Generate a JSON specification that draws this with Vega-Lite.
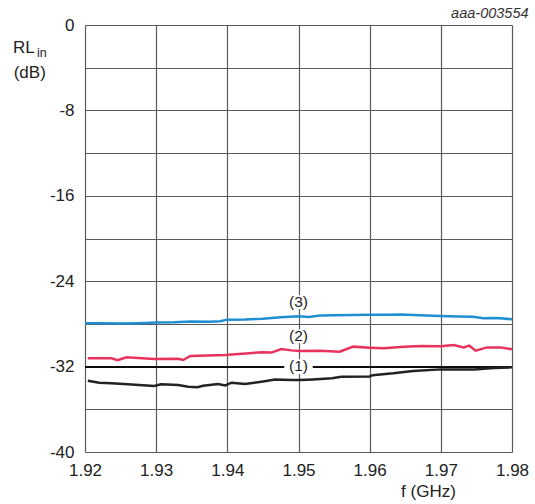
{
  "$schema": "https://vega.github.io/schema/vega-lite/v6.json",
  "width": 427,
  "height": 427,
  "autosize": "none",
  "padding": {"left": 85, "top": 25, "right": 23, "bottom": 52},
  "background": "white",
  "config": {
    "font": "Liberation Sans",
    "view": {"stroke": null},
    "axis": {"domain": false, "ticks": false, "grid": true, "labelFlush": false, "gridColor": "#5a5a5a", "gridWidth": 1.2, "gridOpacity": 1, "labelFont": "Liberation Sans", "labelFontSize": 17, "labelColor": "#222"}
  },
  "title": {"text": "aaa-003554", "anchor": "end", "fontStyle": "italic", "fontWeight": "normal", "fontSize": 14.5, "color": "#333", "offset": -5, "font": "Liberation Sans"},
  "datasets": {
    "curves": [
      {"f": 1.92, "rl": -27.94, "s": "3"}, {"f": 1.9225, "rl": -27.95, "s": "3"}, {"f": 1.925, "rl": -27.97, "s": "3"}, {"f": 1.9275, "rl": -27.93, "s": "3"}, {"f": 1.93, "rl": -27.86, "s": "3"}, {"f": 1.9325, "rl": -27.84, "s": "3"}, {"f": 1.935, "rl": -27.78, "s": "3"}, {"f": 1.9375, "rl": -27.79, "s": "3"}, {"f": 1.939, "rl": -27.76, "s": "3"}, {"f": 1.94, "rl": -27.6, "s": "3"}, {"f": 1.9425, "rl": -27.58, "s": "3"}, {"f": 1.945, "rl": -27.52, "s": "3"}, {"f": 1.9475, "rl": -27.38, "s": "3"}, {"f": 1.95, "rl": -27.28, "s": "3"}, {"f": 1.9515, "rl": -27.36, "s": "3"}, {"f": 1.953, "rl": -27.22, "s": "3"}, {"f": 1.955, "rl": -27.18, "s": "3"}, {"f": 1.9575, "rl": -27.16, "s": "3"}, {"f": 1.96, "rl": -27.14, "s": "3"}, {"f": 1.9625, "rl": -27.15, "s": "3"}, {"f": 1.9645, "rl": -27.12, "s": "3"}, {"f": 1.967, "rl": -27.18, "s": "3"}, {"f": 1.97, "rl": -27.26, "s": "3"}, {"f": 1.9725, "rl": -27.3, "s": "3"}, {"f": 1.9745, "rl": -27.33, "s": "3"}, {"f": 1.976, "rl": -27.48, "s": "3"}, {"f": 1.978, "rl": -27.45, "s": "3"}, {"f": 1.98, "rl": -27.57, "s": "3"},
      {"f": 1.9204, "rl": -31.22, "s": "2"}, {"f": 1.9237, "rl": -31.22, "s": "2"}, {"f": 1.9246, "rl": -31.41, "s": "2"}, {"f": 1.9258, "rl": -31.13, "s": "2"}, {"f": 1.9297, "rl": -31.29, "s": "2"}, {"f": 1.9331, "rl": -31.26, "s": "2"}, {"f": 1.9338, "rl": -31.38, "s": "2"}, {"f": 1.9348, "rl": -31.0, "s": "2"}, {"f": 1.9397, "rl": -30.91, "s": "2"}, {"f": 1.9448, "rl": -30.66, "s": "2"}, {"f": 1.9462, "rl": -30.69, "s": "2"}, {"f": 1.9476, "rl": -30.35, "s": "2"}, {"f": 1.949, "rl": -30.48, "s": "2"}, {"f": 1.9502, "rl": -30.54, "s": "2"}, {"f": 1.953, "rl": -30.51, "s": "2"}, {"f": 1.9558, "rl": -30.6, "s": "2"}, {"f": 1.9577, "rl": -30.13, "s": "2"}, {"f": 1.96, "rl": -30.23, "s": "2"}, {"f": 1.962, "rl": -30.29, "s": "2"}, {"f": 1.9648, "rl": -30.13, "s": "2"}, {"f": 1.9672, "rl": -30.07, "s": "2"}, {"f": 1.97, "rl": -30.1, "s": "2"}, {"f": 1.9718, "rl": -29.98, "s": "2"}, {"f": 1.9732, "rl": -30.2, "s": "2"}, {"f": 1.974, "rl": -30.04, "s": "2"}, {"f": 1.9749, "rl": -30.51, "s": "2"}, {"f": 1.9765, "rl": -30.2, "s": "2"}, {"f": 1.9784, "rl": -30.2, "s": "2"}, {"f": 1.98, "rl": -30.38, "s": "2"},
      {"f": 1.9204, "rl": -33.32, "s": "1"}, {"f": 1.922, "rl": -33.51, "s": "1"}, {"f": 1.9237, "rl": -33.57, "s": "1"}, {"f": 1.926, "rl": -33.66, "s": "1"}, {"f": 1.9297, "rl": -33.82, "s": "1"}, {"f": 1.9307, "rl": -33.66, "s": "1"}, {"f": 1.9331, "rl": -33.72, "s": "1"}, {"f": 1.9345, "rl": -33.88, "s": "1"}, {"f": 1.9358, "rl": -33.94, "s": "1"}, {"f": 1.9366, "rl": -33.8, "s": "1"}, {"f": 1.9387, "rl": -33.63, "s": "1"}, {"f": 1.9397, "rl": -33.76, "s": "1"}, {"f": 1.9406, "rl": -33.51, "s": "1"}, {"f": 1.9425, "rl": -33.63, "s": "1"}, {"f": 1.9448, "rl": -33.41, "s": "1"}, {"f": 1.9467, "rl": -33.2, "s": "1"}, {"f": 1.949, "rl": -33.26, "s": "1"}, {"f": 1.9502, "rl": -33.26, "s": "1"}, {"f": 1.952, "rl": -33.2, "s": "1"}, {"f": 1.9547, "rl": -33.1, "s": "1"}, {"f": 1.956, "rl": -32.95, "s": "1"}, {"f": 1.96, "rl": -32.92, "s": "1"}, {"f": 1.9604, "rl": -32.8, "s": "1"}, {"f": 1.9633, "rl": -32.63, "s": "1"}, {"f": 1.9661, "rl": -32.41, "s": "1"}, {"f": 1.97, "rl": -32.26, "s": "1"}, {"f": 1.9747, "rl": -32.26, "s": "1"}, {"f": 1.9775, "rl": -32.13, "s": "1"}, {"f": 1.98, "rl": -32.07, "s": "1"}
    ],
    "labels": [
      {"f": 1.95, "rl": -25.95, "t": "(3)", "xa": 1.9483, "xb": 1.9517, "y1": -25.3, "y2": -26.6},
      {"f": 1.95, "rl": -29.13, "t": "(2)", "xa": 1.9483, "xb": 1.9517, "y1": -28.5, "y2": -29.8},
      {"f": 1.95, "rl": -31.99, "t": "(1)", "xa": 1.948, "xb": 1.952, "y1": -31.3, "y2": -32.7}
    ],
    "ytitle": [
      {"f": 1.90988, "rl": -2.62, "t": "RL", "sz": 17},
      {"f": 1.91326, "rl": -3.0, "t": "in", "sz": 12.5},
      {"f": 1.90998, "rl": -5.0, "t": "(dB)", "sz": 17}
    ]
  },
  "layer": [
    {
      "data": {"name": "curves"},
      "mark": {"type": "rule", "color": "#111", "strokeWidth": 1},
      "encoding": {
        "y": {"datum": -32, "type": "quantitative", "scale": {"domain": [-40, 0], "nice": false},
          "axis": {"values": [-40, -36, -32, -28, -24, -20, -16, -12, -8, -4, 0], "grid": true, "labelExpr": "datum.value % 8 == 0 ? '' + datum.value : ''", "title": null, "labelPadding": 11}}
      }
    },
    {
      "data": {"name": "curves"},
      "mark": {"type": "line", "strokeWidth": 2.5, "interpolate": "linear"},
      "encoding": {
        "x": {"field": "f", "type": "quantitative", "scale": {"domain": [1.92, 1.98], "nice": false, "zero": false},
          "axis": {"values": [1.92, 1.93, 1.94, 1.95, 1.96, 1.97, 1.98], "format": ".2f", "labelPadding": 10, "title": "f (GHz)", "titleFont": "Liberation Sans", "titleFontSize": 17, "titleFontWeight": "normal", "titleColor": "#222", "titleX": 343, "titleY": 31, "titleAlign": "center", "titleBaseline": "top", "titleAnchor": null}},
        "y": {"field": "rl", "type": "quantitative"},
        "color": {"field": "s", "type": "nominal", "scale": {"domain": ["1", "2", "3"], "range": ["#222222", "#e8335c", "#1e8fd0"]}, "legend": null},
        "detail": {"field": "s"}
      }
    },
    {
      "data": {"name": "labels"},
      "mark": {"type": "rect", "color": "white", "opacity": 1},
      "encoding": {
        "x": {"field": "xa", "type": "quantitative"},
        "x2": {"field": "xb"},
        "y": {"field": "y1", "type": "quantitative"},
        "y2": {"field": "y2"}
      }
    },
    {
      "data": {"name": "labels"},
      "mark": {"type": "text", "fontSize": 15.5, "color": "#222", "baseline": "middle", "align": "center", "font": "Liberation Sans"},
      "encoding": {
        "x": {"field": "f", "type": "quantitative"},
        "y": {"field": "rl", "type": "quantitative"},
        "text": {"field": "t"}
      }
    },
    {
      "data": {"name": "ytitle"},
      "mark": {"type": "text", "color": "#222", "baseline": "alphabetic", "align": "left", "font": "Liberation Sans"},
      "encoding": {
        "x": {"field": "f", "type": "quantitative"},
        "y": {"field": "rl", "type": "quantitative"},
        "text": {"field": "t"},
        "size": {"field": "sz", "type": "quantitative", "scale": null}
      }
    }
  ]
}
